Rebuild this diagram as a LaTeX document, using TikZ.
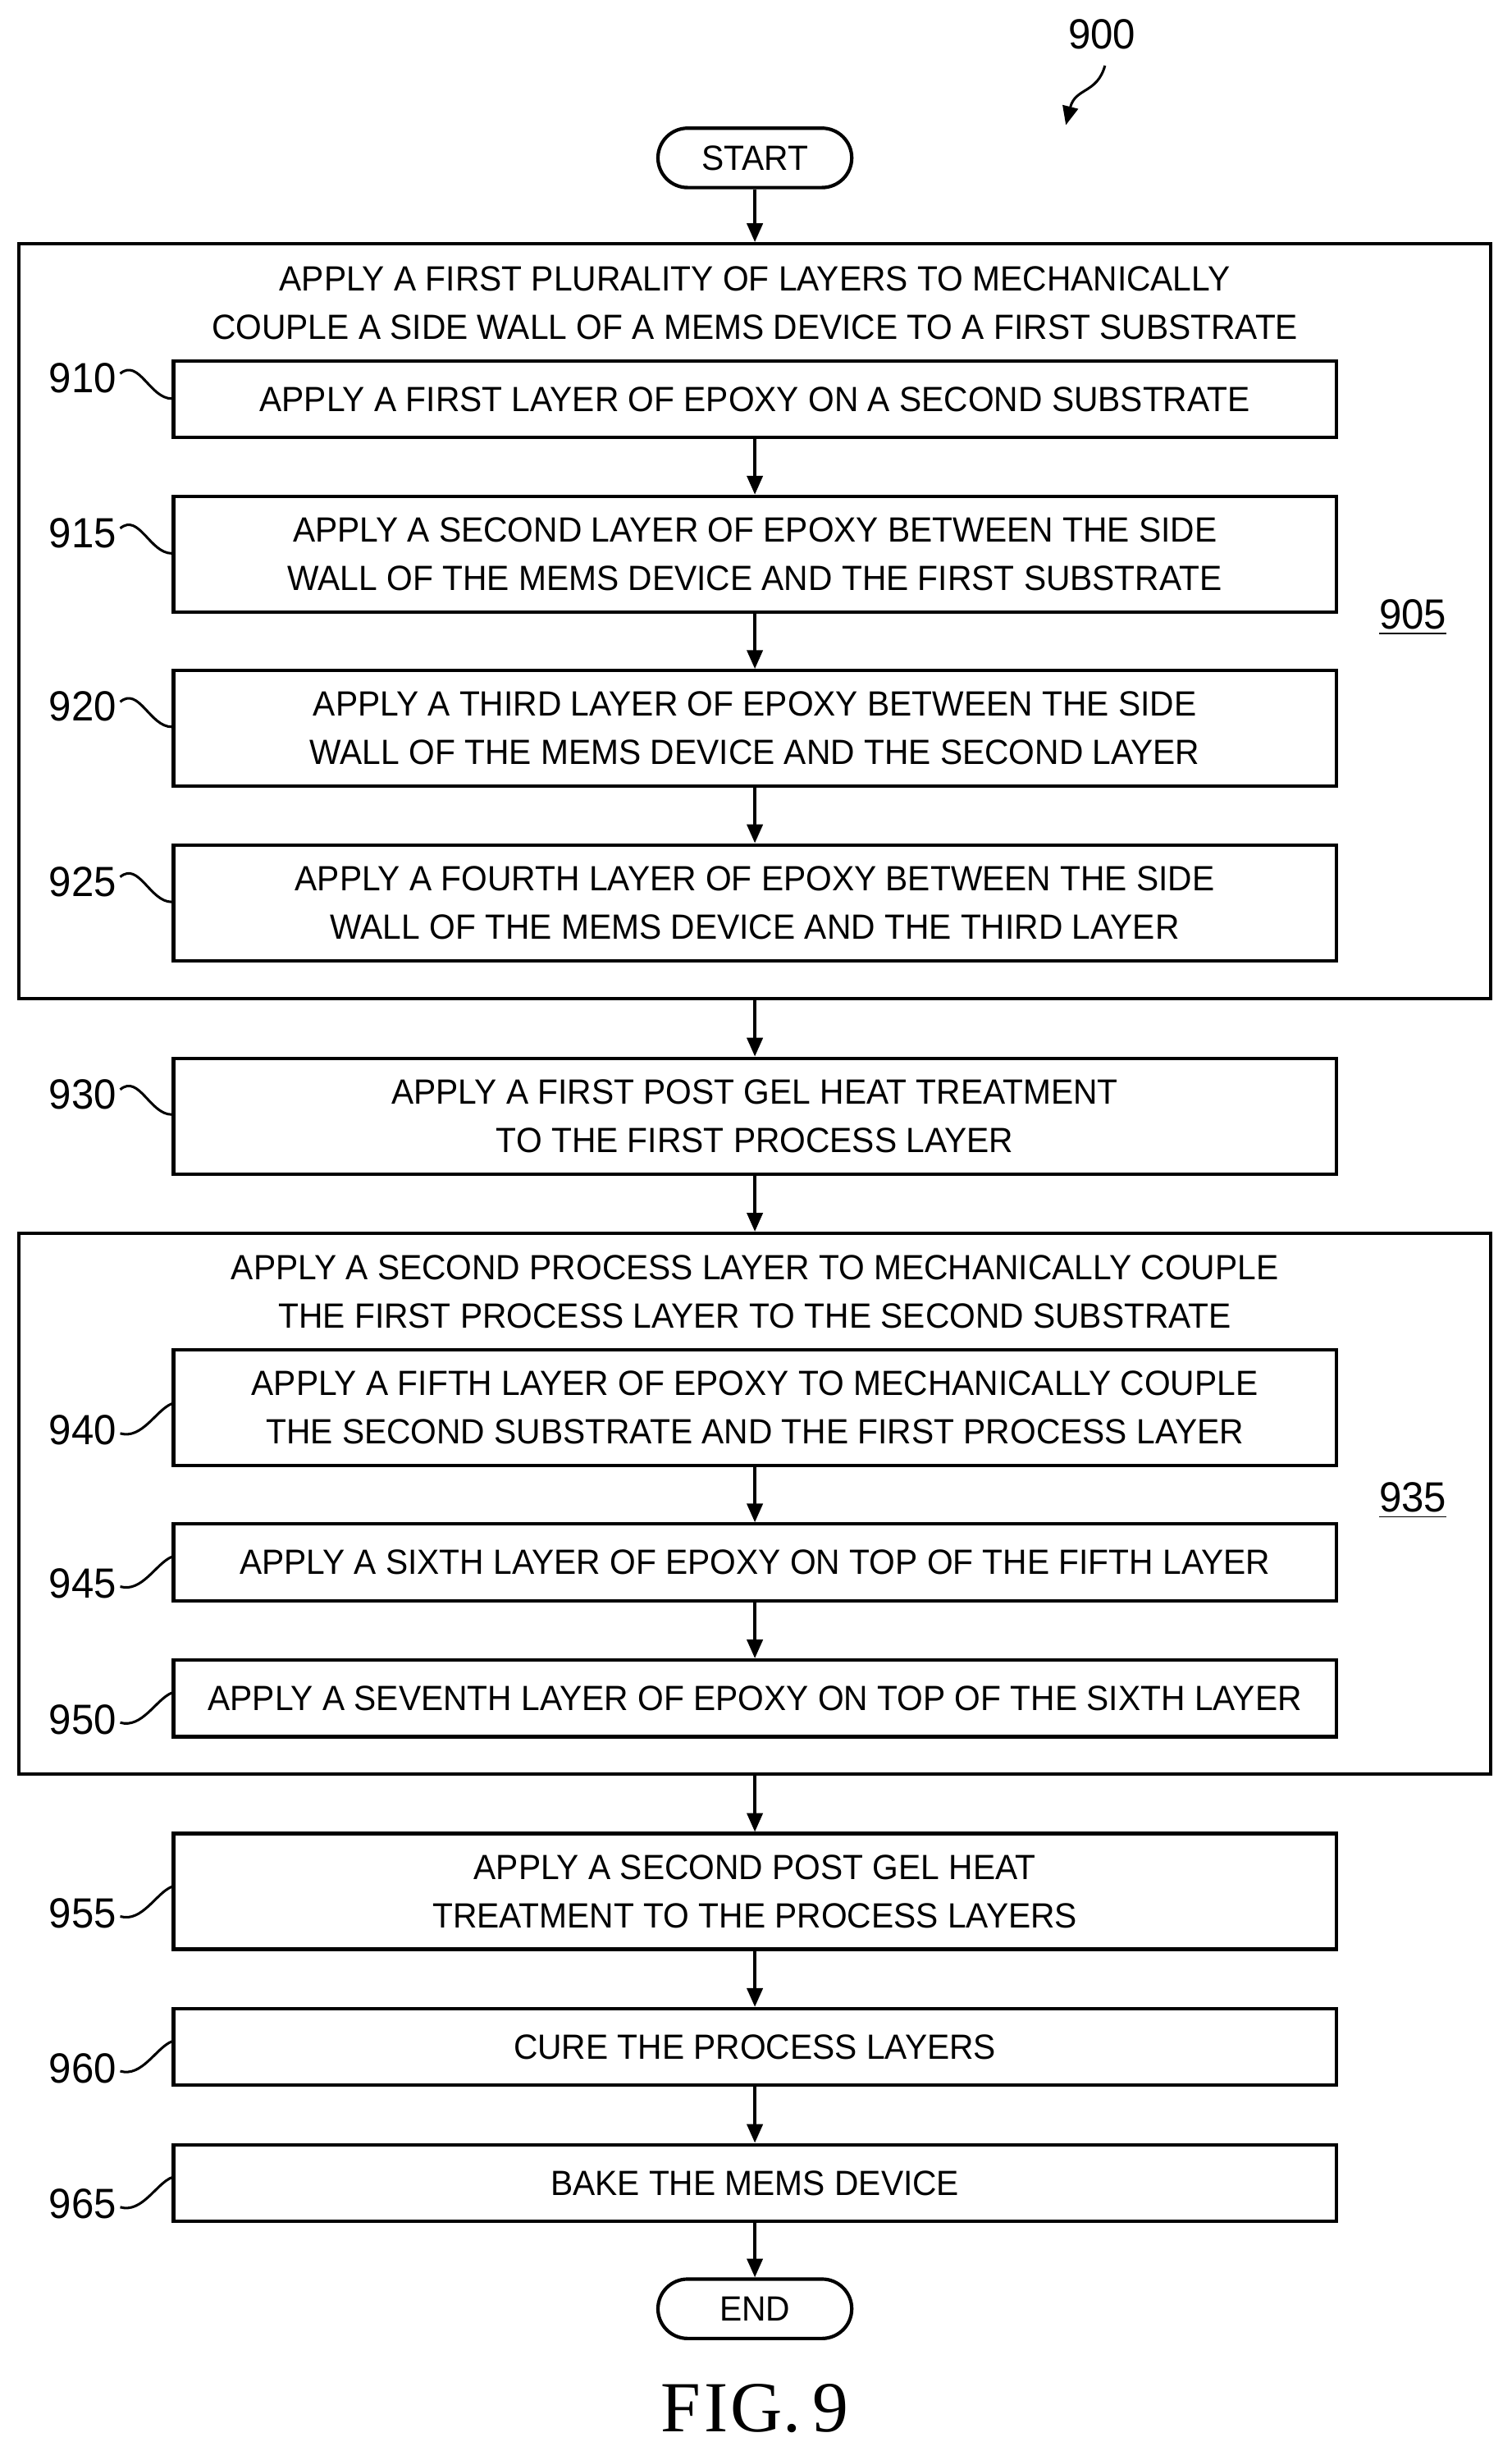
\documentclass[tikz,border=0pt]{standalone}
\usepackage{fontspec}
\setmainfont{Liberation Sans}[FakeStretch=0.955]
\newfontfamily\figfont{Liberation Serif}
\usetikzlibrary{arrows.meta}
\begin{document}
\begin{tikzpicture}[x=0.5pt,y=-0.5pt,
  every node/.style={font=\fontsize{11.2}{15.5}\selectfont, align=center, inner sep=0pt},
  box/.style={draw, line width=1.1pt, minimum width=372pt},
  sbox/.style={box, minimum height=24.5pt},
  tbox/.style={box, minimum height=37pt},
  group/.style={draw, line width=1.1pt, minimum width=471pt},
  term/.style={draw, line width=1.1pt, rounded corners=9.5pt, minimum width=62pt, minimum height=19pt},
  arr/.style={line width=1pt, -{Triangle[length=6pt,width=5pt]}},
  lead/.style={line width=0.8pt},
  lbl/.style={font=\fontsize{13.5}{15}\selectfont}]
\useasboundingbox (0,0) rectangle (967,1568);
\node[term] (start) at (483,101) {START};
\node[group, minimum height=241.5pt] (g905) at (483,397.5) {};
\node (h905) at (483,194) {APPLY A FIRST PLURALITY OF LAYERS TO MECHANICALLY\\COUPLE A SIDE WALL OF A MEMS DEVICE TO A FIRST SUBSTRATE};
\node[sbox] (n910) at (483,255.5) {APPLY A FIRST LAYER OF EPOXY ON A SECOND SUBSTRATE};
\node[tbox] (n915) at (483,354.5) {APPLY A SECOND LAYER OF EPOXY BETWEEN THE SIDE\\WALL OF THE MEMS DEVICE AND THE FIRST SUBSTRATE};
\node[tbox] (n920) at (483,466) {APPLY A THIRD LAYER OF EPOXY BETWEEN THE SIDE\\WALL OF THE MEMS DEVICE AND THE SECOND LAYER};
\node[tbox] (n925) at (483,577.5) {APPLY A FOURTH LAYER OF EPOXY BETWEEN THE SIDE\\WALL OF THE MEMS DEVICE AND THE THIRD LAYER};
\node[tbox] (n930) at (483,714) {APPLY A FIRST POST GEL HEAT TREATMENT\\TO THE FIRST PROCESS LAYER};
\node[group, minimum height=173pt] (g935) at (483,962) {};
\node (h935) at (483,826.5) {APPLY A SECOND PROCESS LAYER TO MECHANICALLY COUPLE\\THE FIRST PROCESS LAYER TO THE SECOND SUBSTRATE};
\node[tbox] (n940) at (483,900.5) {APPLY A FIFTH LAYER OF EPOXY TO MECHANICALLY COUPLE\\THE SECOND SUBSTRATE AND THE FIRST PROCESS LAYER};
\node[sbox] (n945) at (483,999.5) {APPLY A SIXTH LAYER OF EPOXY ON TOP OF THE FIFTH LAYER};
\node[sbox] (n950) at (483,1086.5) {APPLY A SEVENTH LAYER OF EPOXY ON TOP OF THE SIXTH LAYER};
\node[tbox] (n955) at (483,1210) {APPLY A SECOND POST GEL HEAT\\TREATMENT TO THE PROCESS LAYERS};
\node[sbox] (n960) at (483,1309.5) {CURE THE PROCESS LAYERS};
\node[sbox] (n965) at (483,1396.5) {BAKE THE MEMS DEVICE};
\node[term] (end) at (483,1477) {END};
\node[font=\figfont\fontsize{23}{25}\selectfont] (fig) at (483,1541) {F\kern1ptI\kern1ptG.\,9};
% arrows
\draw[arr] (start) -- (g905.north);
\draw[arr] (n910) -- (n915);
\draw[arr] (n915) -- (n920);
\draw[arr] (n920) -- (n925);
\draw[arr] (g905.south) -- (n930);
\draw[arr] (n930) -- (g935.north);
\draw[arr] (n940) -- (n945);
\draw[arr] (n945) -- (n950);
\draw[arr] (g935.south) -- (n955);
\draw[arr] (n955) -- (n960);
\draw[arr] (n960) -- (n965);
\draw[arr] (n965) -- (end);
% reference labels
\node[lbl] (l900) at (705,22) {900};
\coordinate (c900) at (682,80);
\draw[lead, -{Triangle[length=6pt,width=5pt]}] (707,42) .. controls (702,60) and (688,56) .. (c900);
\node[lbl] (l905) at (904,395) {\underline{905}};
\node[lbl] (l935) at (904,960) {\underline{935}};
\foreach \n/\y/\t in {910/242/n910, 915/341/n915, 920/452/n920, 925/564/n925, 930/700/n930}{
  \node[lbl] (l\n) at (53,\y) {\n};
  \draw[lead] (l\n.east) ++(2,-3) .. controls +(12,-10) and +(-14,0) .. (\t.west |- 0,\y+13);
}
\foreach \n/\y/\t in {940/915/n940, 945/1013/n945, 950/1100/n950, 955/1224/n955, 960/1323/n960, 965/1410/n965}{
  \node[lbl] (l\n) at (53,\y) {\n};
  \draw[lead] (l\n.east) ++(2,2) .. controls +(14,4) and +(-10,4) .. (\t.west |- 0,\y-17);
}
\end{tikzpicture}
\end{document}
